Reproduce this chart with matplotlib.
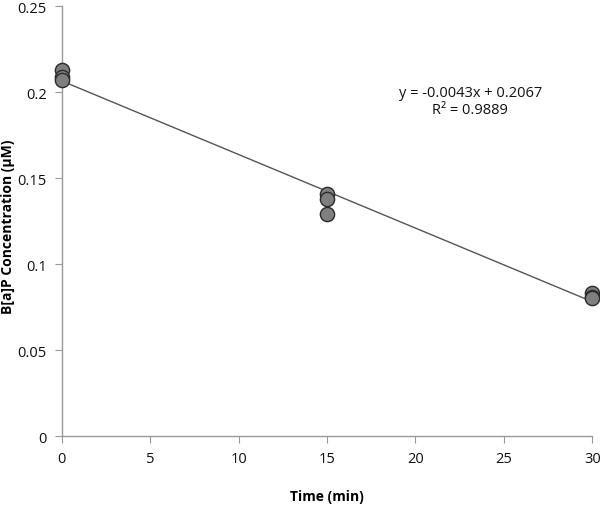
import matplotlib

matplotlib.use("Agg")
import matplotlib.pyplot as plt
import numpy as np

plt.rcParams["font.family"] = ["Open Sans", "DejaVu Sans"]

# replicate measurements per time point
time_min = [0, 0, 0, 15, 15, 15, 30, 30, 30]
bap_um = [0.213, 0.209, 0.207, 0.141, 0.138, 0.129, 0.083, 0.081, 0.080]

x_ticks = [0, 5, 10, 15, 20, 25, 30]
y_ticks = [0, 0.05, 0.1, 0.15, 0.2, 0.25]
y_tick_labels = ["0", "0.05", "0.1", "0.15", "0.2", "0.25"]

fit_label = "y = -0.0043x + 0.2067\nR² = 0.9889"


def main() -> None:
    fig = plt.figure(figsize=(6.0, 5.1), dpi=100)
    ax = fig.add_axes([0.103, 0.143, 0.884, 0.843])

    slope, intercept = np.polyfit(time_min, bap_um, 1)
    xs = np.array([min(time_min), max(time_min)])
    ax.plot(xs, slope * xs + intercept, color="#555555", lw=1.0, zorder=2)

    ax.scatter(time_min, bap_um, s=105, color="#7f7f7f",
               edgecolors="#2b2b2b", linewidths=1.0, zorder=3, clip_on=False)

    ax.text(23.1, 0.195, fit_label, ha="center", va="center",
            fontsize=10.5, linespacing=1.15, color="#111111")

    ax.set_xlim(0, 30)
    ax.set_ylim(0, 0.25)
    ax.set_xticks(x_ticks)
    ax.set_yticks(y_ticks)
    ax.set_yticklabels(y_tick_labels)

    for side in ("top", "right"):
        ax.spines[side].set_visible(False)
    for side in ("left", "bottom"):
        ax.spines[side].set_color("#999999")
        ax.spines[side].set_linewidth(1.0)
    ax.tick_params(direction="out", length=5, color="#999999",
                   labelsize=10.5, pad=6, labelcolor="#111111")

    ax.set_xlabel("Time (min)", fontsize=10, fontweight="bold")
    ax.set_ylabel("B[a]P Concentration (μM)", fontsize=10,
                  fontweight="bold")
    ax.xaxis.set_label_coords(0.5, -0.14)
    ax.yaxis.set_label_coords(-0.102, 0.49)
    ax.xaxis.label.set_va("center")
    ax.yaxis.label.set_va("center")

    fig.savefig("out.png")


if __name__ == "__main__":
    main()
